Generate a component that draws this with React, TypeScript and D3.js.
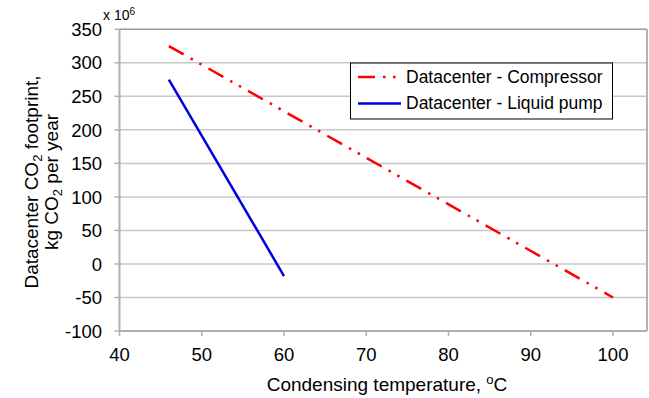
import React from 'react';
import * as d3 from 'd3';

const tempCompressor = [46, 100];
const co2Compressor = [325, -50];
const tempPump = [46, 60];
const co2Pump = [275, -18];
const xTicks = [40, 50, 60, 70, 80, 90, 100];
const yTicks = [-100, -50, 0, 50, 100, 150, 200, 250, 300, 350];
const seriesNames = ['Datacenter - Compressor', 'Datacenter - Liquid pump'];

const FONT = "'Liberation Sans', Arial, Helvetica, sans-serif";

export default function App() {
  const W = 649, H = 398;
  const left = 119.5, right = 647, top = 29.3, bottom = 331;
  const x = d3.scaleLinear().domain([40, 104.13]).range([left, right]);
  const y = d3.scaleLinear().domain([-100, 350]).range([bottom, top]);
  const line = d3.line<[number, number]>().x(d => x(d[0])).y(d => y(d[1]));
  const compData = tempCompressor.map((t, i) => [t, co2Compressor[i]] as [number, number]);
  const pumpData = tempPump.map((t, i) => [t, co2Pump[i]] as [number, number]);
  const red = '#FF0000';
  const blue = '#0000E0';
  const dash = '17 8 2.5 7.5 2.5 8';
  const fs = 17.5;
  const tfs = 18.5;
  const afs = 19;

  return (
    <svg width={W} height={H} style={{ position: 'absolute', left: 0, top: 0, background: '#fff' }} fontFamily={FONT}>
      <rect x={0} y={0} width={W} height={H} fill="#fff" />
      {yTicks.map(v => (
        <line key={'g' + v} x1={left} x2={right} y1={y(v)} y2={y(v)} stroke={v === 350 ? '#999' : '#C8C8C8'} strokeWidth={1.5} />
      ))}
      <line x1={right} x2={right} y1={top} y2={bottom} stroke="#B4B4B4" strokeWidth={2} />
      <line x1={left} x2={left} y1={top} y2={bottom + 1} stroke="#B0B0B0" strokeWidth={2} />
      {yTicks.map(v => (
        <line key={'yt' + v} x1={left - 5} x2={left} y1={y(v)} y2={y(v)} stroke="#B0B0B0" strokeWidth={1.5} />
      ))}
      <line x1={left} x2={right} y1={bottom} y2={bottom} stroke="#B0B0B0" strokeWidth={2} />
      {xTicks.map(v => (
        <line key={'xt' + v} x1={x(v)} x2={x(v)} y1={bottom} y2={bottom + 5} stroke="#B0B0B0" strokeWidth={1.5} />
      ))}
      {yTicks.map(v => (
        <text key={'yl' + v} x={102} y={y(v)} dy="0.36em" textAnchor="end" fontSize={tfs} fill="#000">{v}</text>
      ))}
      {xTicks.map(v => (
        <text key={'xl' + v} x={x(v)} y={361} textAnchor="middle" fontSize={tfs} fill="#000">{v}</text>
      ))}
      <text x={103} y={19.5} fontSize={14} fill="#000">x 10<tspan fontSize={10} dy={-5}>6</tspan></text>
      <path d={line(compData) || ''} fill="none" stroke={red} strokeWidth={2.5} strokeDasharray={dash} />
      <path d={line(pumpData) || ''} fill="none" stroke={blue} strokeWidth={2.5} />
      <rect x={350.5} y={63} width={262} height={56} fill="#fff" stroke="#000" strokeWidth={1} />
      <line x1={358} x2={401} y1={77} y2={77} stroke={red} strokeWidth={2.5} strokeDasharray={dash} />
      <text x={406} y={83} fontSize={fs} fill="#000">{seriesNames[0]}</text>
      <line x1={358} x2={401} y1={103.5} y2={103.5} stroke={blue} strokeWidth={2.5} />
      <text x={406} y={109} fontSize={fs} fill="#000">{seriesNames[1]}</text>
      <text x={387} y={391} textAnchor="middle" fontSize={afs} fill="#000">
        Condensing temperature, <tspan fontSize={13} dy={-7}>o</tspan><tspan dy={7}>C</tspan>
      </text>
      <g transform="translate(38,182) rotate(-90)">
        <text x={0} y={0} textAnchor="middle" fontSize={afs} fill="#000">
          Datacenter CO<tspan fontSize={13} dy={4}>2</tspan><tspan dy={-4}> footprint,</tspan>
        </text>
      </g>
      <g transform="translate(58,182) rotate(-90)">
        <text x={0} y={0} textAnchor="middle" fontSize={afs} fill="#000">
          kg CO<tspan fontSize={13} dy={4}>2</tspan><tspan dy={-4}> per year</tspan>
        </text>
      </g>
    </svg>
  );
}
